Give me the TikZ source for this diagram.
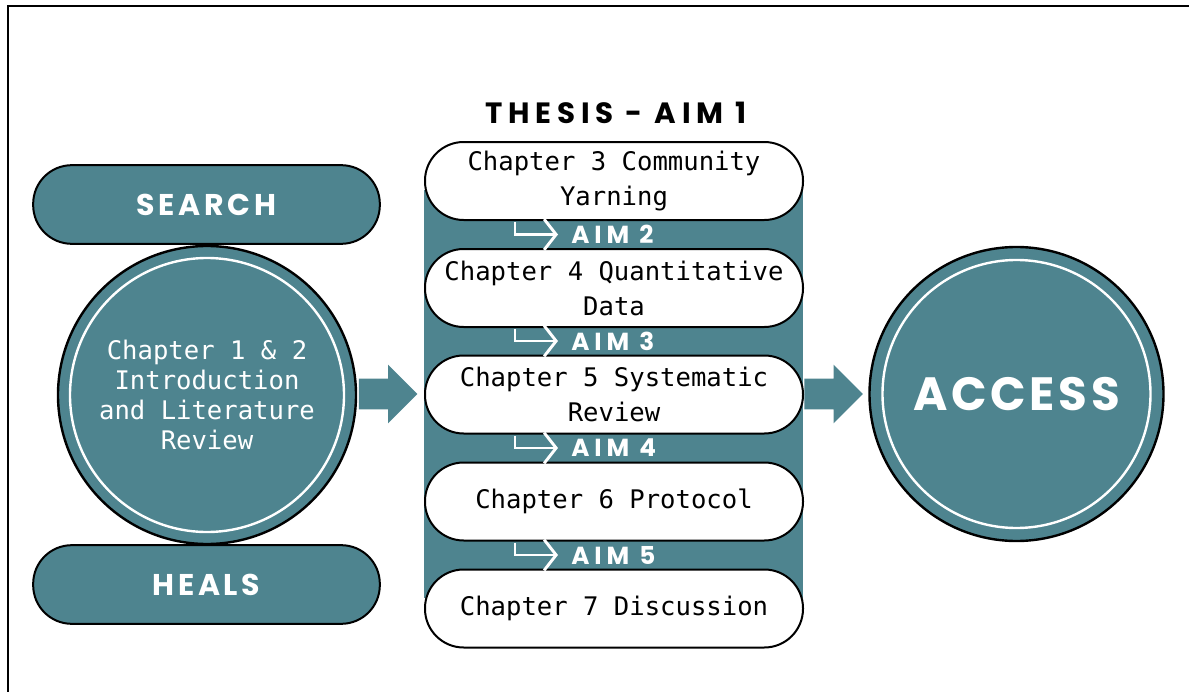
\documentclass[tikz,border=0pt]{standalone}
\usepackage{fontspec}
\setmonofont{DejaVu Sans Mono}
\newfontfamily\dispfont{Poppins}[LetterSpace=12]
\newfontfamily\widedispfont{Poppins}[LetterSpace=20]
\newfontfamily\bigdispfont{Poppins}[LetterSpace=8]
\usetikzlibrary{arrows.meta,shapes.arrows}
\definecolor{thesisteal}{HTML}{4E848F}
\newcommand{\pxunit}{0.75pt}

\begin{document}
\begin{tikzpicture}[x=\pxunit, y=-\pxunit,
    chapter/.style={draw, line width=1.5pt, fill=white, rectangle, rounded corners=29pt, minimum width=283.5pt, minimum height=58.5pt, inner sep=0pt, align=center, font=\ttfamily\fontsize{19.2}{26.3}\selectfont},
    sidepill/.style={draw, line width=1.5pt, fill=thesisteal, rectangle, rounded corners=29pt, minimum width=260pt, minimum height=59pt, inner sep=0pt, text=white, font=\dispfont\bfseries\fontsize{22.5}{27}\selectfont},
    bigcircle/.style={draw, line width=1.8pt, fill=thesisteal, circle, minimum size=223.5pt, inner sep=0pt, text=white, align=center},
    aim/.style={anchor=west, inner xsep=9.75pt, inner ysep=0pt, text=white, font=\widedispfont\bfseries\fontsize{18.5}{20}\selectfont},
    hook/.style={draw=white, line width=2.2pt, -{Straight Barb[length=9pt,width=23pt]}},
    blockarrow/.style={single arrow, fill=thesisteal, minimum height=44pt, inner xsep=0pt, inner ysep=11.25pt, single arrow head extend=10.5pt}]
    \useasboundingbox (0,0) rectangle (1189,692);

    % Frame
    \draw[line width=2.2pt] (8,692) -- (8,6) -- (1189,6);

    % Title and column
    \node[font=\widedispfont\bfseries\fontsize{22}{24}\selectfont] (title) at (616,113) {THESIS - AIM 1};
    \fill[thesisteal] (424,190) rectangle (803,598);

    \node[chapter] (chap3) at (614,181) {Chapter 3 Community\\Yarning};
    \node[chapter] (chap4) at (614,288) {Chapter 4 Quantitative\\Data};
    \node[chapter] (chap5) at (614,394.5) {Chapter 5 Systematic\\Review};
    \node[chapter] (chap6) at (614,501.5) {Chapter 6 Protocol};
    \node[chapter] (chap7) at (614,608.5) {Chapter 7 Discussion};

    \node[aim] (aim2) at (558,234.5) {AIM 2};
    \node[aim] (aim3) at (558,341) {AIM 3};
    \node[aim] (aim4) at (558,448) {AIM 4};
    \node[aim] (aim5) at (558,555) {AIM 5};

    \draw[hook] ([xshift=-74.25pt,yshift=-1pt]chap3.south) |- (aim2.west);
    \draw[hook] ([xshift=-74.25pt,yshift=-1pt]chap4.south) |- (aim3.west);
    \draw[hook] ([xshift=-74.25pt,yshift=-1pt]chap5.south) |- (aim4.west);
    \draw[hook] ([xshift=-74.25pt,yshift=-1pt]chap6.south) |- (aim5.west);

    % Left side
    \node[sidepill] (search) at (206.5,204.5) {SEARCH};
    \node[sidepill] (heals) at (206.5,584.5) {HEALS};
    \node[bigcircle, font=\ttfamily\fontsize{19.2}{22.5}\selectfont] (intro) at (207,395) {Chapter 1 \& 2\\Introduction\\and Literature\\Review};
    \draw[white, line width=1.8pt] (intro.center) circle[radius=137];

    % Right side
    \node[bigcircle, minimum size=220.5pt, font=\bigdispfont\bfseries\fontsize{35}{40}\selectfont] (access) at (1016.5,394) {ACCESS};
    \draw[white, line width=1.8pt] (access.center) circle[radius=134];

    \node[blockarrow] (arrowin) at (380.5,394) {};
    \node[blockarrow] (arrowout) at (826,394) {};

\end{tikzpicture}
\end{document}
